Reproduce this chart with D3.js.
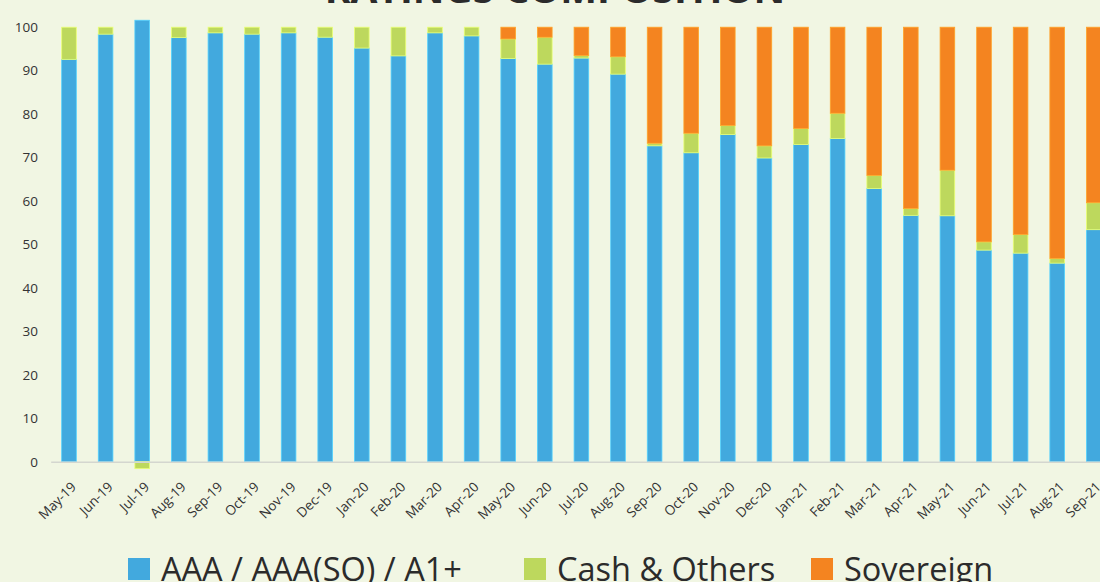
<!DOCTYPE html>
<html>
<head>
<meta charset="utf-8">
<script src="https://cdn.jsdelivr.net/npm/d3@7"></script>
<style>
  body { margin: 0; background: #f1f6e3; }
  svg { display: block; font-family: "Open Sans", "Noto Sans", sans-serif; }
</style>
</head>
<body>
<div id="chart"></div>
<script>
// month labels along the x axis
var months = ["May-19", "Jun-19", "Jul-19", "Aug-19", "Sep-19", "Oct-19", "Nov-19", "Dec-19",
  "Jan-20", "Feb-20", "Mar-20", "Apr-20", "May-20", "Jun-20", "Jul-20", "Aug-20", "Sep-20",
  "Oct-20", "Nov-20", "Dec-20", "Jan-21", "Feb-21", "Mar-21", "Apr-21", "May-21", "Jun-21",
  "Jul-21", "Aug-21", "Sep-21"];

// series values (% of portfolio)
var aaa = [92.6, 98.4, 101.6, 97.6, 98.7, 98.4, 98.7, 97.7, 95.2, 93.4, 98.7, 98.0, 92.8, 91.5,
  92.9, 89.2, 72.7, 71.1, 75.3, 69.9, 73.0, 74.4, 62.9, 56.7, 56.6, 48.7, 48.0, 45.7, 53.4];
var cash = [7.4, 1.6, -1.6, 2.4, 1.3, 1.6, 1.3, 2.3, 4.8, 6.6, 1.3, 2.0, 4.5, 6.2,
  0.6, 4.0, 0.6, 4.5, 2.1, 2.8, 3.7, 5.8, 3.0, 1.6, 10.5, 1.9, 4.3, 1.1, 6.2];
var sovereign = [0, 0, 0, 0, 0, 0, 0, 0, 0, 0, 0, 0, 2.7, 2.3,
  6.5, 6.8, 26.7, 24.4, 22.6, 27.3, 23.3, 19.8, 34.1, 41.7, 32.9, 49.4, 47.7, 53.2, 40.4];

var seriesNames = ["AAA / AAA(SO) / A1+", "Cash & Others", "Sovereign"];
var yTicks = [0, 10, 20, 30, 40, 50, 60, 70, 80, 90, 100];

var colors = ["#42a9de", "#bdd85d", "#f48420"];

var svgWidth = 1100;
var svgHeight = 582;

var svg = d3.select("#chart")
  .append("svg")
  .attr("width", svgWidth)
  .attr("height", svgHeight);

// build table rows for d3.stack
var rows = months.map(function(m, i) {
  var r = { month: m };
  r[seriesNames[0]] = aaa[i];
  r[seriesNames[1]] = cash[i];
  r[seriesNames[2]] = sovereign[i];
  return r;
});

var stacked = d3.stack()
  .keys(seriesNames)
  .offset(d3.stackOffsetDiverging)(rows);

// scales
var xScale = d3.scaleBand()
  .domain(months)
  .range([50.7, 50.7 + 36.6 * months.length])
  .padding(0);

var yScale = d3.scaleLinear()
  .domain([0, 100])
  .range([461.7, 27.2]);

var barW = xScale.bandwidth() * 0.4;

// title (mostly off the top of the picture)
svg.append("text")
  .attr("x", 555)
  .attr("y", 3)
  .attr("text-anchor", "middle")
  .attr("font-size", 39)
  .attr("font-weight", "bold")
  .attr("fill", "#2b2b2b")
  .text("RATINGS COMPOSITION");

// y axis labels
var leftAxis = d3.axisLeft(yScale).tickValues(yTicks).tickSize(0).tickPadding(0);
var yAxisG = svg.append("g")
  .attr("transform", "translate(38,0)")
  .call(leftAxis);
yAxisG.select(".domain").remove();
yAxisG.selectAll("text")
  .attr("font-size", 13.5)
  .attr("font-family", "Open Sans, sans-serif")
  .attr("fill", "#333");

// bars
var layers = svg.append("g").selectAll("g")
  .data(stacked)
  .enter()
  .append("g")
  .attr("fill", (d, i) => colors[i])
  .attr("stroke", (d, i) => d3.color(colors[i]).brighter(0.6))
  .attr("stroke-width", 0.8);

layers.selectAll("rect")
  .data(d => d.filter(p => p[1] !== p[0]))
  .enter()
  .append("rect")
  .attr("x", d => xScale(d.data.month) + (xScale.bandwidth() - barW) / 2)
  .attr("y", d => yScale(Math.max(d[0], d[1])))
  .attr("width", barW)
  .attr("height", d => Math.abs(yScale(d[0]) - yScale(d[1])));

// x axis line and rotated labels
var bottomAxis = d3.axisBottom(xScale).tickSize(0).tickPadding(0);
var xAxisG = svg.append("g")
  .attr("transform", "translate(0," + yScale(0) + ")")
  .call(bottomAxis);
xAxisG.select(".domain")
  .attr("stroke", "#d4d6cf")
  .attr("stroke-width", 1.5);
xAxisG.selectAll("text")
  .attr("font-size", 13.5)
  .attr("font-family", "Open Sans, sans-serif")
  .attr("fill", "#333")
  .attr("text-anchor", "end")
  .attr("dy", 0)
  .attr("transform", "translate(8,26) rotate(-45)");

// legend
var legendX = [128, 524, 811];
var legend = svg.append("g").selectAll("g")
  .data(seriesNames)
  .enter()
  .append("g")
  .attr("transform", (d, i) => "translate(" + legendX[i] + ",0)");

legend.append("rect")
  .attr("y", 558)
  .attr("width", 22)
  .attr("height", 22)
  .attr("fill", (d, i) => colors[i]);

legend.append("text")
  .attr("x", 33)
  .attr("y", 581)
  .attr("font-size", 32.5)
  .attr("fill", "#2b2b2b")
  .text(d => d);
</script>
</body>
</html>
